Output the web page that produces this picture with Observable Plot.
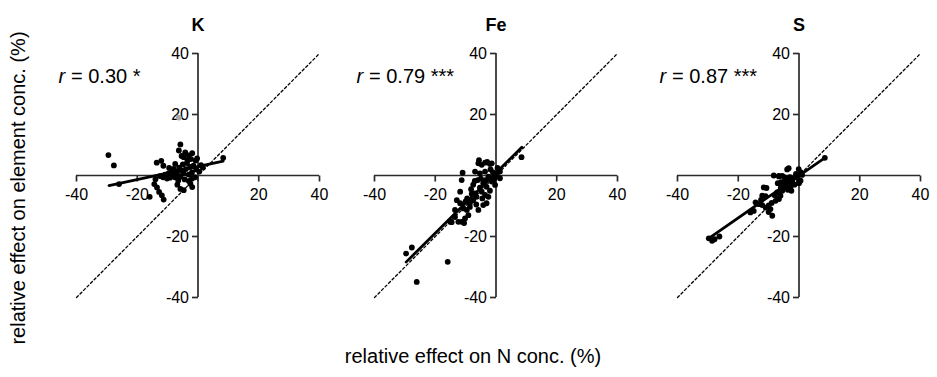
<!DOCTYPE html>
<html>
<head>
<meta charset="utf-8">
<script src="https://cdn.jsdelivr.net/npm/d3@7"></script>
<script src="https://cdn.jsdelivr.net/npm/@observablehq/plot@0.6"></script>
<style>
  body { margin: 0; background: #fff; font-family: "Liberation Sans", Arial, sans-serif; }
  #wrap { position: relative; width: 937px; height: 377px; overflow: hidden; }
  .panel { position: absolute; top: 0; }
  #xlab { position: absolute; left: 0; width: 946px; top: 345px; height: 22px; line-height: 22px;
          text-align: center; font-size: 20px; color: #000; }
  #ylab { position: absolute; left: -182px; top: 176px; width: 400px; height: 24px; line-height: 24px;
          text-align: center; font-size: 20px; color: #000; transform: rotate(-90deg); }
</style>
</head>
<body>
<div id="wrap">
  <div id="ylab">relative effect on element conc. (%)</div>
  <div id="xlab">relative effect on N conc. (%)</div>
</div>
<script>
// ---- data ----
const panelNames = ["K", "Fe", "S"];
const rValues = ["0.30", "0.79", "0.87"];
const rStars = ["*", "***", "***"];

const xTicks = [-40, -20, 20, 40];
const yTicks = [40, 20, -20, -40];
const xTickMarks = [-40, -20, 0, 20, 40];
const yTickMarks = [-40, -20, 0, 20, 40];
const oneToOne = [-40, 40];

const K_x = [-29.5,-27.7,-26.0,-15.9,-14.4,-13.5,-12.8,-11.9,-11.3,-14.0,-13.6,-12.1,-11.4,-12.5,-11.5,-10.8,-10.2,-9.8,-9.2,-8.8,-8.3,-8.0,-7.6,-7.1,-6.8,-6.5,-6.2,-5.8,-5.5,-5.0,-4.8,-4.4,-4.0,-3.6,-3.1,-2.6,-2.0,-1.5,-1.0,-0.6,0.4,1.0,1.6,-5.8,-6.3,-4.7,-3.0,-1.9,-2.3,-0.8,-4.2,-3.5,-5.4,-5.8,-4.7,-2.5,-1.9,-6.8,-3.0,8.3,-0.3,-7.5,-9.5,-2.0];
const K_y = [6.7,3.3,-2.8,-7.0,-2.8,-3.9,-5.4,-6.5,-7.9,-1.2,4.2,4.8,3.2,-0.2,-0.6,0.3,-1.0,0.6,-0.7,1.1,0.1,2.2,-0.6,1.3,0.2,-1.6,2.6,-0.4,1.6,3.6,0.7,-1.3,2.1,4.1,0.3,2.8,1.0,3.2,-0.6,2.0,1.3,3.4,2.6,10.2,8.2,6.0,6.6,7.3,5.4,4.9,7.6,5.1,6.4,-4.4,-4.8,-2.7,-3.8,-3.0,-1.8,5.8,5.6,3.8,2.5,-1.0];
const K_grayX = [-6.3];
const K_grayY = [19.0];
const K_fitX = [-29.3, 8.3];
const K_fitY = [-3.3, 4.7];

const Fe_x = [-29.6,-27.7,-26.1,-15.9,8.4,-15.1,-12.4,-14.6,-13.5,-11.3,-10.2,-10.5,-12.9,-11.8,-10.7,-9.6,-13.5,-9.1,-11.8,-11.0,-11.3,-8.6,-7.5,-6.9,-8.6,-5.8,-4.2,-3.1,-4.7,-3.6,-2.5,-6.4,-5.3,-5.8,-4.7,-3.6,-2.0,-5.6,-1.4,-5.3,-3.6,-2.5,0.2,1.3,-1.4,-0.3,-3.1,-6.9,-6.0,-4.2,-1.0,-2.0,-7.5,-8.0,-9.5,-6.5,-4.5,-5.0,-7.0,-1.8,0.5,-0.5,-3.5,-8.2,-10.0,1.3,-0.9,-2.9];
const Fe_y = [-25.6,-23.6,-34.9,-28.3,6.0,-15.2,-15.2,-15.3,-13.6,-15.2,-14.1,-15.6,-8.1,-9.1,-10.8,-11.3,-11.3,-13.0,-5.3,0.9,-1.5,-9.1,-8.1,-5.9,-10.3,-11.3,-9.7,-9.1,-5.3,-6.4,-7.0,-7.0,-4.0,4.0,3.5,4.2,3.8,5.0,4.0,0.7,1.3,-0.4,0.2,-0.9,-2.0,-3.1,-3.7,1.3,-1.5,-2.5,1.0,-5.0,-3.0,-6.0,-7.5,-9.5,-7.5,-1.0,-1.8,2.0,2.5,-1.0,-1.5,-4.5,-8.5,1.3,-1.5,4.5];
const Fe_fitX = [-29.6, 8.5];
const Fe_fitY = [-28.4, 9.3];

const S_x = [-29.7,-28.6,-27.8,-26.2,8.5,-16.0,-14.9,-14.3,-13.2,-12.1,-11.0,-9.4,-8.8,-12.1,-11.0,-11.6,-10.7,-7.2,-6.1,-6.6,-7.7,-5.9,-4.4,-2.8,-3.7,-5.5,-6.6,-5.5,-4.8,-3.4,-2.2,-0.6,0.5,-0.1,-3.4,-0.1,0.7,1.0,-3.9,-8.3,-6.6,-4.0,-5.0,-2.0,-1.5,-4.5,-7.0,-8.0,-9.0,-10.0,-6.0,-3.0,-1.0,-12.5,-10.0,-2.5,0.0];
const S_y = [-20.6,-21.4,-20.9,-20.0,5.8,-12.1,-11.6,-8.8,-9.4,-9.7,-10.5,-11.0,-13.2,-6.6,-6.8,-3.9,-4.1,-5.5,-6.6,-7.7,-8.3,-2.2,-3.1,-3.6,-4.7,-5.0,-0.1,-0.1,-0.6,-1.2,-2.2,-0.6,-1.7,-2.2,2.4,2.1,1.0,0.2,2.0,0.0,-0.3,-2.0,-3.8,-1.0,-3.0,-1.5,-2.5,-6.5,-9.0,-9.8,-4.0,-0.5,0.5,-8.0,-12.0,-5.0,-2.5];
const S_fitX = [-29.7, 8.5];
const S_fitY = [-20.6, 5.8];

// ---- build tables ----
const zip = (xs, ys) => xs.map((x, i) => ({x, y: ys[i]}));
const panels = [
  {name: panelNames[0], r: rValues[0], stars: rStars[0], pts: zip(K_x, K_y), gray: zip(K_grayX, K_grayY), fit: zip(K_fitX, K_fitY), left: 36},
  {name: panelNames[1], r: rValues[1], stars: rStars[1], pts: zip(Fe_x, Fe_y), gray: [], fit: zip(Fe_fitX, Fe_fitY), left: 334},
  {name: panelNames[2], r: rValues[2], stars: rStars[2], pts: zip(S_x, S_y), gray: [], fit: zip(S_fitX, S_fitY), left: 637}
];

const tickDown = {draw(ctx) { ctx.moveTo(0, 0); ctx.lineTo(0, 6); }};
const tickLeft = {draw(ctx) { ctx.moveTo(0, 0); ctx.lineTo(-6, 0); }};
const axisColor = "#2b2b2b";

const wrap = document.getElementById("wrap");
for (const p of panels) {
  const chart = Plot.plot({
    width: 300,
    height: 377,
    marginLeft: 40,
    marginRight: 17,
    marginTop: 53,
    marginBottom: 80,
    x: {domain: [-40, 40], axis: null},
    y: {domain: [-40, 40], axis: null},
    style: {fontFamily: "Liberation Sans, Arial, sans-serif", fontSize: "16px", color: "#000", background: "transparent", overflow: "visible"},
    marks: [
      // 1:1 dotted line
      Plot.line(oneToOne, {x: d => d, y: d => d, stroke: "#000", strokeWidth: 1.3, strokeDasharray: "2.5,2.5"}),
      // axes crossing at the origin
      Plot.ruleY([0], {stroke: axisColor, strokeWidth: 1.7}),
      Plot.ruleX([0], {stroke: axisColor, strokeWidth: 1.7}),
      Plot.dot(xTickMarks, {x: d => d, y: 0, symbol: tickDown, fill: "none", stroke: axisColor, strokeWidth: 1.7}),
      Plot.dot(yTickMarks, {x: 0, y: d => d, symbol: tickLeft, fill: "none", stroke: axisColor, strokeWidth: 1.7}),
      Plot.text(xTicks, {x: d => d, y: 0, text: d => String(d), dy: 19, fontSize: 16, fill: "#000"}),
      Plot.text(yTicks, {x: 0, y: d => d, text: d => String(d), textAnchor: "end", dx: -9, fontSize: 16, fill: "#000"}),
      // data
      Plot.dot(p.gray, {x: "x", y: "y", r: 2.9, fill: "#a8a8a8"}),
      Plot.dot(p.pts, {x: "x", y: "y", r: 2.9, fill: "#000"}),
      Plot.line(p.fit, {x: "x", y: "y", stroke: "#000", strokeWidth: 2.8}),
      // title and r label
      Plot.text([p.name], {frameAnchor: "top", dy: -35, fontSize: 18, fontWeight: "bold", fill: "#000"}),
      Plot.text(["r"], {frameAnchor: "top-left", textAnchor: "start", dx: -18, dy: 15, fontSize: 20, fontStyle: "italic", fill: "#000"}),
      Plot.text([`= ${p.r} ${p.stars}`], {frameAnchor: "top-left", textAnchor: "start", dx: -5.5, dy: 15, fontSize: 20, fill: "#000"})
    ]
  });
  chart.classList.add("panel");
  chart.style.left = p.left + "px";
  chart.style.position = "absolute";
  chart.style.top = "0px";
  wrap.appendChild(chart);
}
</script>
</body>
</html>
